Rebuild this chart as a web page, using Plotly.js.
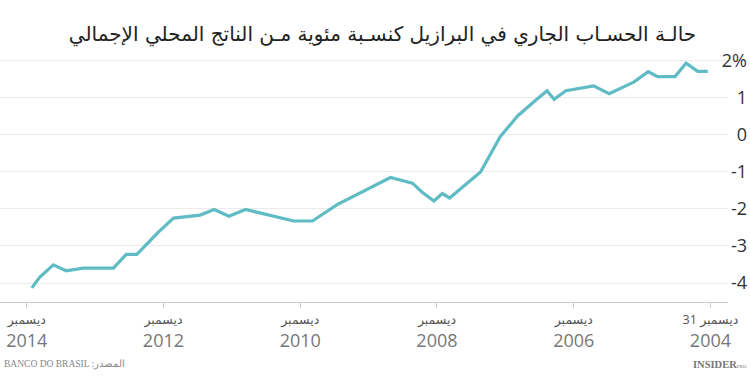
<!DOCTYPE html>
<html>
<head>
<meta charset="utf-8">
<script src="https://cdn.plot.ly/plotly-3.0.1.min.js"></script>
<style>html,body{margin:0;padding:0;background:#fff;}#chart{width:750px;height:382px;}</style>
</head>
<body>
<div id="chart"></div>
<script>
// Data
const dates = ['2005-01-14','2005-03-09','2005-05-10','2005-07-08','2005-10-09','2005-11-28',
  '2006-02-14','2006-06-25','2006-09-16','2007-02-11','2007-04-15','2007-05-23','2007-07-21',
  '2007-10-27','2008-01-28','2008-05-12','2008-10-24','2008-12-02','2009-01-16','2009-03-18',
  '2009-05-11','2009-09-05','2010-06-17','2010-10-27','2011-02-04','2011-10-19','2012-01-16',
  '2012-04-04','2012-06-18','2012-11-07','2013-01-27','2013-05-22','2013-07-18','2013-09-24',
  '2014-03-04','2014-06-04','2014-08-11','2014-10-22','2014-12-04'];
const currentAccountPct = [1.70,1.70,1.92,1.56,1.56,1.69,
  1.41,1.10,1.31,1.18,0.95,1.18,0.93,
  0.50,-0.06,-1.01,-1.71,-1.59,-1.79,-1.56,
  -1.31,-1.16,-1.89,-2.33,-2.33,-2.02,-2.20,
  -2.02,-2.17,-2.25,-2.63,-3.23,-3.23,-3.60,
  -3.60,-3.67,-3.51,-3.84,-4.13];
const xTickVals = ['2004-12-31','2006-12-31','2008-12-31','2010-12-31','2012-12-31','2014-12-31'];
const xTickMonths = ['31 ديسمبر','ديسمبر','ديسمبر','ديسمبر','ديسمبر','ديسمبر'];
const xTickYears = ['2004','2006','2008','2010','2012','2014'];
const yTickVals = [-4,-3,-2,-1,0,1,2];
const yTickText = ['-4','-3','-2','-1','0','1','2%'];
const titleText = 'حالـة الحسـاب الجاري في البرازيل كنسـبة مئوية مـن الناتج المحلي الإجمالي';
const sourceText = 'BANCO DO BRASIL :المصدر';

const xTickText = xTickYears.map((y, i) =>
  "<span style='font-size:12.5px;color:#555'>" + xTickMonths[i] + "</span><br>" + y);

const trace = {
  x: dates, y: currentAccountPct, type: 'scatter', mode: 'lines',
  line: {color: '#5fbcc5', width: 3.2}, hoverinfo: 'skip'
};

const layout = {
  width: 750, height: 382,
  margin: {l: 0, r: 0, t: 45, b: 80},
  paper_bgcolor: '#fff', plot_bgcolor: '#fff',
  showlegend: false,
  font: {family: 'Open Sans, DejaVu Sans, sans-serif'},
  title: {
    text: titleText, x: 0.51, xanchor: 'center', y: 0.91, yanchor: 'middle',
    font: {size: 20, color: '#222', family: 'DejaVu Sans, sans-serif'}
  },
  xaxis: {
    type: 'date', domain: [0, 0.9707],
    range: ['2015-05-23', '2004-09-28'],
    tickmode: 'array', tickvals: xTickVals, ticktext: xTickText,
    tickfont: {size: 18, color: '#777', family: 'Open Sans, DejaVu Sans, sans-serif'},
    ticks: 'outside', ticklen: 5, tickcolor: '#ccc', tickwidth: 1,
    ticklabelstandoff: -6,
    showline: true, linecolor: '#ccc', linewidth: 1,
    showgrid: false, zeroline: false, fixedrange: true
  },
  yaxis: {
    range: [-4.511, 2.41], anchor: 'free', position: 1, side: 'right',
    ticklabelposition: 'inside',
    tickmode: 'array', tickvals: yTickVals, ticktext: yTickText,
    tickfont: {size: 18, color: '#333', family: 'Open Sans, sans-serif'},
    ticks: '', showline: false, showgrid: true, gridcolor: '#ebebeb', gridwidth: 1,
    zeroline: false, fixedrange: true
  },
  annotations: [
    {text: sourceText, xref: 'paper', yref: 'paper', x: 0.002, y: -0.245,
     xanchor: 'left', yanchor: 'middle', showarrow: false,
     font: {size: 9.5, color: '#888', family: 'Liberation Serif, serif'}},
    {text: "<b>INSIDER</b><span style='font-size:5px'>PRO</span>", xref: 'paper', yref: 'paper',
     x: 0.998, y: -0.245, xanchor: 'right', yanchor: 'middle', showarrow: false,
     font: {size: 10.5, color: '#777', family: 'Liberation Serif, serif'}}
  ]
};

Plotly.newPlot('chart', [trace], layout, {displayModeBar: false, staticPlot: true});
</script>
</body>
</html>
